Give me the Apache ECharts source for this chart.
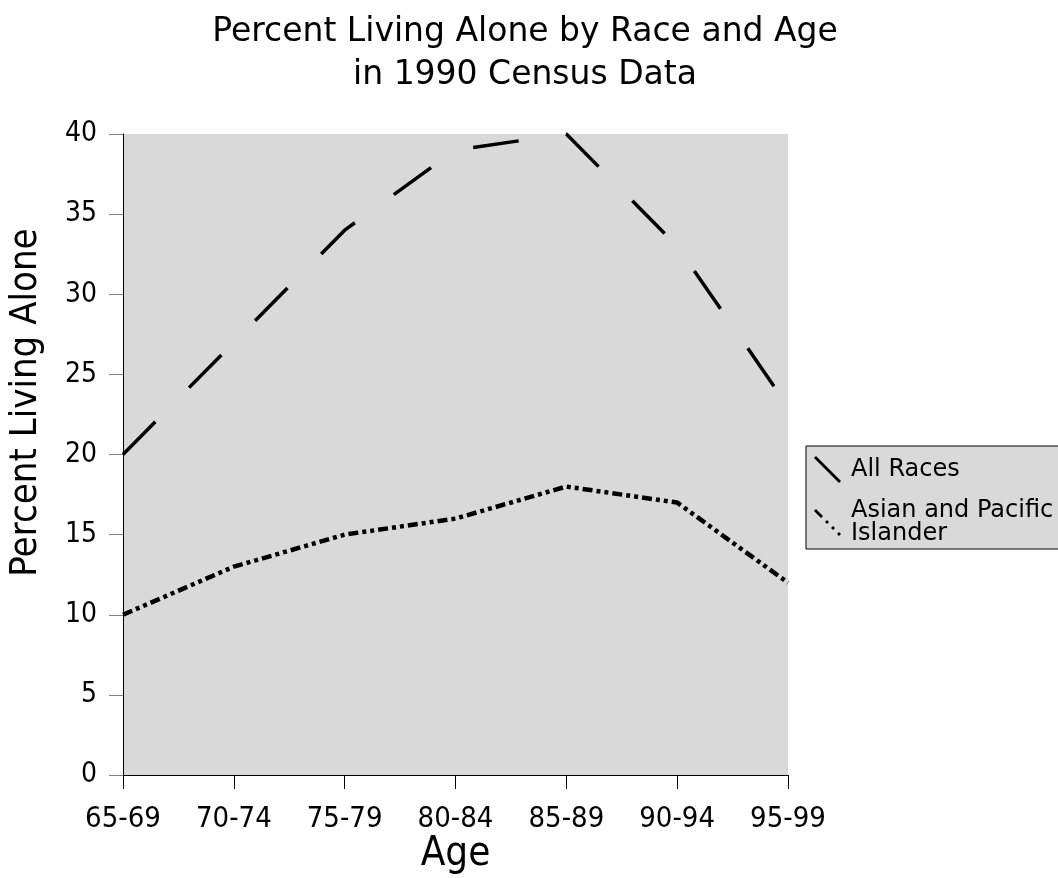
<!DOCTYPE html>
<html>
<head>
<meta charset="utf-8">
<script src="https://cdn.jsdelivr.net/npm/echarts@6/dist/echarts.min.js"></script>
<style>
  html, body { margin: 0; padding: 0; background: #fff; }
  #chart { width: 1058px; height: 878px; }
</style>
</head>
<body>
<div id="chart"></div>
<script>
// Age groups along the horizontal axis
const ageGroups = ['65-69', '70-74', '75-79', '80-84', '85-89', '90-94', '95-99'];
// Percent living alone, 1990 census
const allRaces = [20, 27, 34, 39, 40, 33, 23];
const asianPacific = [10, 13, 15, 16, 18, 17, 12];
const seriesNames = ['All Races', 'Asian and Pacific Islander'];

const FONT = 'DejaVu Sans';
const FONT_NARROW = '"DejaVu Sans Condensed", "DejaVu Sans"';

// Diagonal legend glyphs, drawn as thin bands on a 27x27 box
const solidDiag = 'path://M0,2 L2,0 L27,25 L25,27 Z';
const dashDotDiag = 'path://M0,2 L2,0 L9,7 L7,9 Z M11,13 L13,11 L15,13 L13,15 Z M17,19 L19,17 L21,19 L19,21 Z M23,25 L25,23 L27,25 L25,27 Z';

const chart = echarts.init(document.getElementById('chart'));
chart.setOption({
  backgroundColor: '#ffffff',
  animation: false,
  title: {
    text: 'Percent Living Alone by Race and Age\nin 1990 Census Data',
    left: 520,
    top: 6,
    textAlign: 'center',
    textStyle: {
      fontFamily: FONT,
      fontWeight: 'normal',
      fontSize: 33,
      lineHeight: 43,
      color: '#000'
    }
  },
  legend: {
    orient: 'vertical',
    left: 806,
    top: 446,
    padding: [10, 40, 3, 8],
    itemGap: 16,
    itemWidth: 27,
    itemHeight: 27,
    backgroundColor: '#d9d9d9',
    borderColor: '#000',
    borderWidth: 1,
    borderRadius: 0,
    data: [
      { name: seriesNames[0], icon: solidDiag },
      { name: seriesNames[1], icon: dashDotDiag }
    ],
    formatter: function (name) {
      return name === seriesNames[1] ? 'Asian and Pacific\nIslander' : name;
    },
    textStyle: {
      fontFamily: FONT,
      fontSize: 24,
      lineHeight: 23,
      color: '#000',
      padding: [0, 0, 0, 5]
    },
    itemStyle: { color: '#000', borderWidth: 0 }
  },
  grid: {
    left: 123,
    right: 270,
    top: 134,
    bottom: 103,
    outerBoundsMode: 'none',
    containLabel: false,
    show: true,
    backgroundColor: '#d9d9d9',
    borderWidth: 0
  },
  xAxis: {
    type: 'category',
    data: ageGroups,
    boundaryGap: false,
    name: 'Age',
    nameLocation: 'middle',
    nameGap: 60,
    nameMoveOverlap: false,
    nameTextStyle: { fontFamily: FONT_NARROW, fontSize: 40, color: '#000' },
    axisLine: { show: true, lineStyle: { color: '#000', width: 1 } },
    axisTick: { show: true, length: 14, alignWithLabel: true, lineStyle: { color: '#000' } },
    axisLabel: { fontFamily: FONT_NARROW, fontSize: 29, color: '#000', margin: 30 },
    splitLine: { show: false }
  },
  yAxis: {
    type: 'value',
    min: 0,
    max: 40,
    interval: 5,
    name: 'Percent Living Alone',
    nameLocation: 'middle',
    nameGap: 78,
    nameMoveOverlap: false,
    nameRotate: 90,
    nameTextStyle: { fontFamily: FONT_NARROW, fontSize: 38, color: '#000', padding: [0, 0, 0, 104] },
    axisLine: { show: true, lineStyle: { color: '#000', width: 1 } },
    axisTick: { show: true, length: 14, lineStyle: { color: '#808080' } },
    axisLabel: { fontFamily: FONT_NARROW, fontSize: 28, color: '#000', margin: 26 },
    splitLine: { show: false }
  },
  series: [
    {
      name: seriesNames[0],
      type: 'line',
      data: allRaces,
      symbol: 'none',
      lineStyle: { color: '#000', width: 3.5, type: [46, 48] },
      z: 3
    },
    {
      name: seriesNames[1],
      type: 'line',
      data: asianPacific,
      symbol: 'none',
      lineStyle: { color: '#000', width: 4.5, type: [10, 4, 4, 4, 4, 4] },
      z: 3
    }
  ]
});
</script>
</body>
</html>
